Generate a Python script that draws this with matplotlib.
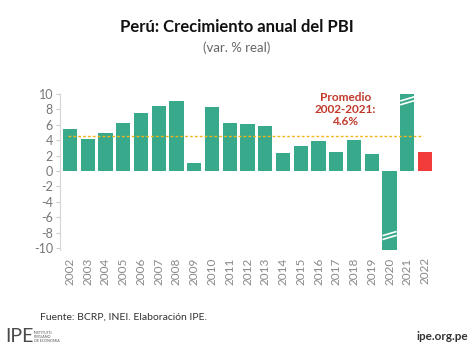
import numpy as np
import matplotlib
matplotlib.use('Agg')
import matplotlib.pyplot as plt

plt.rcParams['font.family'] = ['Lato', 'DejaVu Sans']
plt.rcParams['axes.unicode_minus'] = False

# Datos (var. % real)
years = ['2002', '2003', '2004', '2005', '2006', '2007', '2008', '2009', '2010', '2011',
         '2012', '2013', '2014', '2015', '2016', '2017', '2018', '2019', '2020', '2021', '2022']
growth = [5.4, 4.1, 4.9, 6.3, 7.5, 8.5, 9.1, 1.0, 8.3, 6.3,
          6.1, 5.8, 2.4, 3.2, 3.9, 2.5, 4.0, 2.2, -10.2, 10.0, 2.5]
avg_value = 4.6
broken_years = ['2020', '2021']  # barras recortadas (marca de corte)

green = '#38a98a'
red = '#f23b3b'

fig = plt.figure(figsize=(4.74, 3.55), dpi=100)
ax = fig.add_axes([60 / 474, 0.2949, 375 / 474, 0.4445])

x = np.arange(len(years))
colors = [green] * (len(years) - 1) + [red]
ax.bar(x, growth, width=0.8, color=colors, zorder=2)

# linea del promedio
ax.plot([-0.1, 19.9], [avg_value, avg_value], linestyle=(0, (2, 1.5)), color='#f2b51c',
        linewidth=1.0, zorder=3)

# marcas de corte en las barras de 2020 y 2021
for yr in broken_years:
    i = years.index(yr)
    v = growth[i]
    if v > 0:
        base = v - 1.4
    else:
        base = v + 1.3
    for off in [0, 0.5]:
        ax.plot([i - 0.4, i + 0.4], [base + off, base + off + 0.55], color='white',
                linewidth=1.2, solid_capstyle='butt', zorder=4)

ax.text(15.5, 8.0, 'Promedio\n2002-2021:\n4.6%', color='#c0392b', fontsize=8.5,
        fontweight='bold', ha='center', va='center', linespacing=1.15)

ax.set_xlim(-0.56, 20.56)
ax.set_ylim(-10.3, 10.2)
ax.set_yticks(np.arange(-10, 11, 2))
ax.set_xticks(x)
ax.set_xticklabels(years, rotation=90)
ax.tick_params(axis='y', colors='#cccccc', labelcolor='#777777', labelsize=9, length=3, width=0.8, pad=2)
ax.tick_params(axis='x', length=0, labelcolor='#888888', labelsize=8.5, pad=5)
for s in ['top', 'right', 'bottom']:
    ax.spines[s].set_visible(False)
ax.spines['left'].set_color('#d5d5d5')
ax.spines['left'].set_bounds(-10.2, 10)

fig.text(0.5, 1 - 27 / 355, 'Perú: Crecimiento anual del PBI', ha='center', va='center',
         fontsize=12, fontweight='bold', color='#111111')
fig.text(0.5, 1 - 48 / 355, '(var. % real)', ha='center', va='center', fontsize=9.5,
         color='#666666')
fig.text(40 / 474, 1 - 317 / 355, 'Fuente: BCRP, INEI. Elaboración IPE.', ha='left',
         va='center', fontsize=7.5, color='#333333')

# logo y web
fig.text(5 / 474, 1 - 337 / 355, 'IPE', ha='left', va='center', fontsize=14,
         color='#4a4a4a')
fig.text(34 / 474, 1 - 337 / 355, 'INSTITUTO\nPERUANO\nDE ECONOMIA', ha='left', va='center',
         fontsize=2.6, color='#555555', linespacing=1.0)
fig.text(468 / 474, 1 - 337 / 355, 'ipe.org.pe', ha='right', va='center', fontsize=8.5,
         fontweight='bold', color='#333333')

fig.savefig('out.png', dpi=100)
